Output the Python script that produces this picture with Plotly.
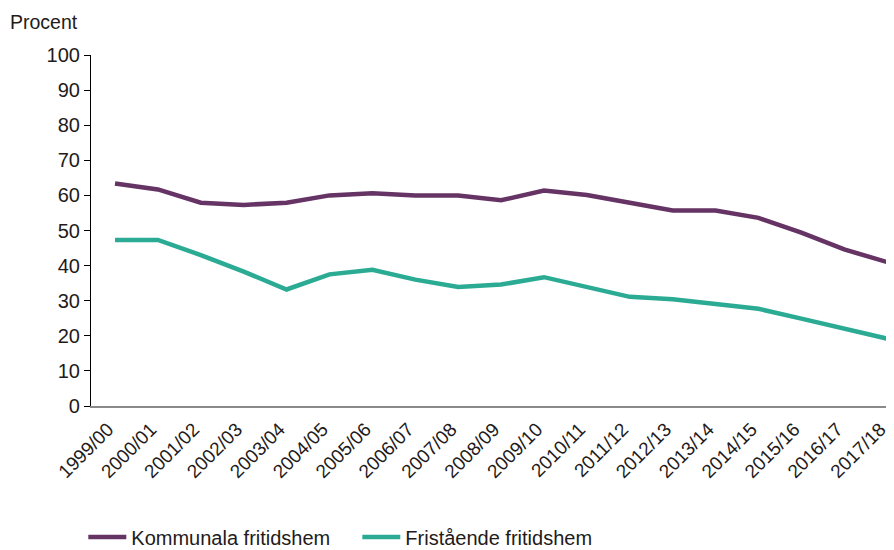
import plotly.graph_objects as go

# Läsår
years = ["1999/00", "2000/01", "2001/02", "2002/03", "2003/04", "2004/05",
         "2005/06", "2006/07", "2007/08", "2008/09", "2009/10", "2010/11",
         "2011/12", "2012/13", "2013/14", "2014/15", "2015/16", "2016/17",
         "2017/18"]

# Andel (procent)
kommunala = [63.4, 61.7, 57.9, 57.3, 57.9, 60.0, 60.6, 60.0, 60.0, 58.6,
             61.4, 60.1, 57.9, 55.7, 55.7, 53.6, 49.4, 44.6, 41.0]
fristaende = [47.3, 47.3, 43.0, 38.3, 33.2, 37.5, 38.8, 36.0, 33.9, 34.6,
              36.7, 33.9, 31.1, 30.4, 29.1, 27.7, 24.9, 22.0, 19.2]

y_ticks = list(range(0, 101, 10))

PURPLE = "#653465"
TEAL = "#2bab94"
TEXT = "#231a1a"
FONT = "Liberation Sans, Arial, sans-serif"

fig = go.Figure()
fig.add_trace(go.Scatter(
    x=years, y=kommunala, name="Kommunala fritidshem",
    mode="lines", line=dict(color=PURPLE, width=4.5),
))
fig.add_trace(go.Scatter(
    x=years, y=fristaende, name="Fristående fritidshem",
    mode="lines", line=dict(color=TEAL, width=4.5),
))

# sidans body-marginal (~8 px) flyttar figuren, därför lite mindre storlek
fig.update_layout(
    width=886, height=542,
    margin=dict(l=83, r=0, t=47, b=144),
    paper_bgcolor="white", plot_bgcolor="white",
    font=dict(family=FONT, size=18, color=TEXT),
    showlegend=True,
    # legenden placeras i containerns koordinater så att den inte flyttar ritytan
    legend=dict(orientation="h", xref="container", yref="container",
                x=0.085, xanchor="left", y=0.024, yanchor="middle",
                font=dict(size=20, color=TEXT),
                itemwidth=38, entrywidth=221, tracegroupgap=0),
    xaxis=dict(
        type="category", range=[-0.56, 18.16], automargin=False,
        showline=True, linecolor="#8a8a8a", linewidth=1.5,
        showgrid=False, zeroline=False, ticks="",
        tickangle=-45, tickfont=dict(size=19),
        ticklabelshift=-7, ticklabelstandoff=3,
    ),
    yaxis=dict(
        range=[0, 100], tickvals=y_ticks, automargin=False,
        showline=True, linecolor="black", linewidth=1.2,
        ticks="outside", ticklen=6, tickcolor="black",
        showgrid=False, zeroline=False, tickfont=dict(size=20),
    ),
    annotations=[dict(
        text="Procent", xref="paper", yref="paper", x=-0.103, y=1.095,
        xanchor="left", yanchor="middle", showarrow=False,
        font=dict(size=19.5, color=TEXT),
    )],
)

fig.write_html("out.html")
